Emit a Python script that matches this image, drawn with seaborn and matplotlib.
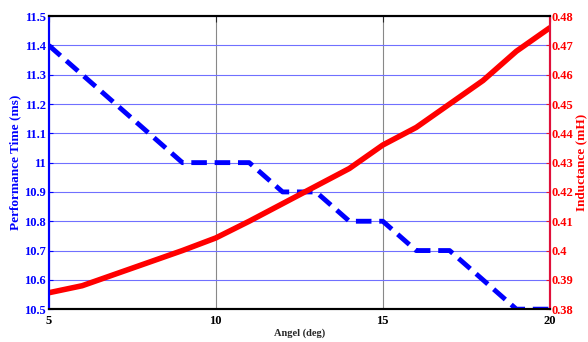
import matplotlib
matplotlib.use("Agg")
import matplotlib.pyplot as plt
import seaborn as sns
import pandas as pd

angle = [5, 6, 7, 8, 9, 10, 11, 12, 13, 14, 15, 16, 17, 18, 19, 20]
perf_time = [11.4, 11.3, 11.2, 11.1, 11.0, 11.0, 11.0, 10.9, 10.9, 10.8, 10.8, 10.7, 10.7, 10.6, 10.5, 10.5]
inductance = [0.3856, 0.388, 0.392, 0.396, 0.400, 0.4043, 0.410, 0.416, 0.422, 0.428, 0.436, 0.442, 0.450, 0.458, 0.468, 0.476]
left_ticks = [10.5, 10.6, 10.7, 10.8, 10.9, 11.0, 11.1, 11.2, 11.3, 11.4, 11.5]
left_labels = ["10.5", "10.6", "10.7", "10.8", "10.9", "11", "11.1", "11.2", "11.3", "11.4", "11.5"]
right_ticks = [0.38, 0.39, 0.40, 0.41, 0.42, 0.43, 0.44, 0.45, 0.46, 0.47, 0.48]
right_labels = ["0.38", "0.39", "0.4", "0.41", "0.42", "0.43", "0.44", "0.45", "0.46", "0.47", "0.48"]
x_ticks = [5, 10, 15, 20]

df = pd.DataFrame({"angle": angle, "perf": perf_time, "ind": inductance})

sns.set_style("white")
plt.rcParams["font.family"] = ["Liberation Serif", "DejaVu Serif"]
plt.rcParams["font.weight"] = "bold"

fig = plt.figure(figsize=(5.88, 3.42), dpi=100)
ax = fig.add_axes([0.083, 0.096, 0.852, 0.857])
ax2 = ax.twinx()

blue = "#0000ff"
red = "#ff0000"
rcol = "#e0103a"

sns.lineplot(data=df, x="angle", y="perf", ax=ax, color=blue, linewidth=3.5)
ax.lines[0].set_dashes([3.2, 1.6])
sns.lineplot(data=df, x="angle", y="ind", ax=ax2, color=red, linewidth=4)

ax.set_xlim(5, 20)
ax.set_ylim(10.5, 11.5)
ax2.set_ylim(0.38, 0.48)
ax.set_xticks(x_ticks)
ax.set_xticklabels([str(t) for t in x_ticks], fontsize=9, fontweight="bold", color="black")
ax.set_yticks(left_ticks)
ax.set_yticklabels(left_labels, fontsize=9, fontweight="bold", color=blue)
ax2.set_yticks(right_ticks)
ax2.set_yticklabels(right_labels, fontsize=9, fontweight="bold", color=red)

ax.yaxis.grid(True, color="#7070ff", linewidth=0.8)
ax.xaxis.grid(True, color="#888888", linewidth=0.8)
ax.set_axisbelow(True)

ax.set_xlabel("Angel (deg)", fontsize=7.5, fontweight="bold", labelpad=1)
ax.set_ylabel("Performance Time (ms)", fontsize=9.5, fontweight="bold", color=blue, labelpad=2)
ax2.set_ylabel("Inductance (mH)", fontsize=9.5, fontweight="bold", color=red, labelpad=2)

for a in (ax, ax2):
    a.spines["top"].set_color("black")
    a.spines["bottom"].set_color("black")
    a.spines["left"].set_color(blue)
    a.spines["right"].set_color(rcol)
    for s in a.spines.values():
        s.set_linewidth(1.5)

ax.tick_params(axis="x", direction="in", length=4, top=True, pad=4)
ax.tick_params(axis="y", direction="in", length=3, colors=blue, pad=2)
ax2.tick_params(axis="y", direction="in", length=3, colors=rcol, pad=1)
for lbl in ax2.get_yticklabels():
    lbl.set_color(red)
for lbl in ax.get_xticklabels():
    lbl.set_color("black")

fig.savefig("out.png", dpi=100)
